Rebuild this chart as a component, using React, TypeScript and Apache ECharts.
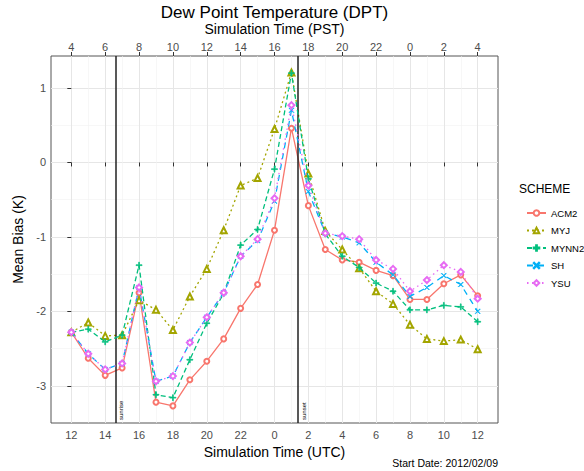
import React, { useEffect, useRef } from "react";
import * as echarts from "echarts";

// hours since 12 UTC (0..24)
const hourIndex = [0, 1, 2, 3, 4, 5, 6, 7, 8, 9, 10, 11, 12, 13, 14, 15, 16, 17, 18, 19, 20, 21, 22, 23, 24];
const majorTicks = [0, 2, 4, 6, 8, 10, 12, 14, 16, 18, 20, 22, 24];
const minorTicks = [1, 3, 5, 7, 9, 11, 13, 15, 17, 19, 21, 23];
const utcTickLabels = ["12", "14", "16", "18", "20", "22", "0", "2", "4", "6", "8", "10", "12"];
const pstTickLabels = ["4", "6", "8", "10", "12", "14", "16", "18", "20", "22", "0", "2", "4"];
const yTicks = [-3, -2, -1, 0, 1];
const yMinorTicks = [-2.5, -1.5, -0.5, 0.5];

const acm2 = [-2.28, -2.63, -2.86, -2.76, -1.75, -3.22, -3.27, -2.92, -2.67, -2.37, -1.96, -1.64, -0.91, 0.46, -0.58, -1.17, -1.31, -1.34, -1.45, -1.52, -1.84, -1.84, -1.63, -1.51, -1.79];
const myj = [-2.28, -2.15, -2.33, -2.32, -1.85, -1.98, -2.25, -1.80, -1.43, -0.91, -0.31, -0.21, 0.45, 1.21, -0.15, -0.92, -1.17, -1.42, -1.73, -1.90, -2.18, -2.37, -2.40, -2.38, -2.51];
const mynn2 = [-2.28, -2.24, -2.41, -2.32, -1.38, -3.12, -3.16, -2.65, -2.16, -1.76, -1.11, -0.90, -0.09, 1.20, -0.22, -0.96, -1.26, -1.41, -1.62, -1.73, -1.98, -1.98, -1.92, -1.94, -2.14];
const sh = [-2.28, -2.57, -2.78, -2.70, -1.68, -2.94, -2.87, -2.42, -2.08, -1.75, -1.26, -1.05, -0.52, 0.70, -0.39, -0.95, -1.00, -1.08, -1.34, -1.51, -1.80, -1.68, -1.52, -1.64, -2.00];
const ysu = [-2.28, -2.57, -2.78, -2.70, -1.68, -2.94, -2.87, -2.42, -2.08, -1.75, -1.26, -1.03, -0.48, 0.77, -0.31, -0.95, -0.99, -1.03, -1.31, -1.43, -1.73, -1.58, -1.38, -1.47, -1.83];

const schemes = ["ACM2", "MYJ", "MYNN2", "SH", "YSU"];
const sunEvents = [
  { name: "sunrise", hour: 2.6 },
  { name: "sunset", hour: 13.4 },
];

const FONT = "'Liberation Sans', Arial, sans-serif";
const PLUS = "path://M4.3,0H5.7V4.3H10V5.7H5.7V10H4.3V5.7H0V4.3H4.3Z";
const CROSS = "path://M0,0.7L0.7,0L5,4.3L9.3,0L10,0.7L5.7,5L10,9.3L9.3,10L5,5.7L0.7,10L0,9.3L4.3,5Z";

export default function App() {
  const ref = useRef<HTMLDivElement>(null);
  useEffect(() => {
    if (!ref.current) return;
    const chart = echarts.init(ref.current, undefined, { renderer: "svg" });
    const values = [acm2, myj, mynn2, sh, ysu];
    const colors = ["#F8766D", "#A3A500", "#00BF7D", "#00B0F6", "#E76BF3"];
    const dashes: any[] = ["solid", [2, 3], [5, 3], [6, 5], [1.5, 3.5]];
    const symbols = ["emptyCircle", "emptyTriangle", PLUS, CROSS, "emptyDiamond"];
    const sizes = [5, 6, 6, 5, 6];
    const xMin = -1.2, xMax = 25.2, yMin = -3.5, yMax = 1.43;

    const series: any[] = schemes.map((name, i) => ({
      name,
      type: "line",
      xAxisIndex: 0,
      yAxisIndex: 0,
      data: hourIndex.map((h, j) => [h, values[i][j]]),
      symbol: symbols[i],
      symbolSize: sizes[i],
      showAllSymbol: true,
      color: colors[i],
      lineStyle: { color: colors[i], width: 1.3, type: dashes[i] },
      itemStyle: { color: colors[i], borderColor: colors[i], borderWidth: 0.7 },
      z: 3 + i,
    }));
    series[0].markLine = {
      silent: true,
      symbol: ["none", "none"],
      lineStyle: { color: "#222", type: "solid", width: 1.5 },
      label: {
        show: true,
        formatter: (p: any) => p.name,
        position: "insideStartBottom",
        fontSize: 6,
        color: "#000",
        fontFamily: FONT,
        distance: 3,
      },
      data: sunEvents.map((s) => ({ xAxis: s.hour, name: s.name })),
    };

    const axisText = { color: "#4D4D4D", fontSize: 11, fontFamily: FONT };
    const nameText = { color: "#000", fontSize: 14, fontFamily: FONT };

    chart.setOption({
      animation: false,
      backgroundColor: "#fff",
      grid: { left: 51, right: 86, top: 56, bottom: 48, show: true, borderColor: "#555", borderWidth: 1, backgroundColor: "#fff" },
      xAxis: [
        {
          type: "value", position: "bottom", min: xMin, max: xMax,
          axisLine: { show: false },
          axisTick: { show: true, customValues: majorTicks, length: 4, lineStyle: { color: "#333" } },
          axisLabel: { customValues: majorTicks, margin: 6, ...axisText, formatter: (v: number) => utcTickLabels[majorTicks.indexOf(v)] ?? "" },
          splitLine: { show: true, lineStyle: { color: "#E6E6E6", width: 1 } },
          name: "Simulation Time (UTC)", nameLocation: "middle", nameGap: 22, nameTextStyle: nameText,
        },
        {
          type: "value", position: "bottom", min: xMin, max: xMax,
          axisLine: { show: false },
          axisTick: { show: false, customValues: minorTicks },
          axisLabel: { show: false, customValues: minorTicks },
          splitLine: { show: true, lineStyle: { color: "#F2F2F2", width: 0.6 } },
        },
        {
          type: "value", position: "top", min: xMin, max: xMax,
          axisLine: { show: false },
          axisTick: { show: true, customValues: majorTicks, length: 4, lineStyle: { color: "#333" } },
          axisLabel: { customValues: majorTicks, margin: 4, ...axisText, formatter: (v: number) => pstTickLabels[majorTicks.indexOf(v)] ?? "" },
          splitLine: { show: false },
          name: "Simulation Time (PST)", nameLocation: "middle", nameGap: 16, nameTextStyle: nameText,
        },
      ],
      yAxis: [
        {
          type: "value", min: yMin, max: yMax,
          axisLine: { show: false },
          axisTick: { show: true, customValues: yTicks, length: 4, lineStyle: { color: "#333" } },
          axisLabel: { customValues: yTicks, margin: 5, ...axisText, formatter: (v: number) => String(v) },
          splitLine: { show: true, lineStyle: { color: "#E6E6E6", width: 1 } },
          name: "Mean Bias (K)", nameLocation: "middle", nameGap: 26, nameTextStyle: nameText,
        },
        {
          type: "value", min: yMin, max: yMax,
          axisLine: { show: false },
          axisTick: { show: false, customValues: yMinorTicks },
          axisLabel: { show: false, customValues: yMinorTicks },
          splitLine: { show: true, lineStyle: { color: "#F2F2F2", width: 0.6 } },
        },
      ],
      legend: {
        orient: "vertical",
        left: 521,
        top: 203,
        itemWidth: 19,
        itemHeight: 7,
        itemGap: 7.5,
        data: schemes,
        textStyle: { fontSize: 9.5, color: "#000", fontFamily: FONT },
      },
      graphic: [
        { type: "text", x: 274.5, y: 12, style: { text: "Dew Point Temperature (DPT)", textAlign: "center", textVerticalAlign: "middle", fontSize: 17, fontFamily: FONT, fill: "#000" } },
        { type: "text", x: 519, y: 189, style: { text: "SCHEME", textAlign: "left", textVerticalAlign: "middle", fontSize: 12, fontFamily: FONT, fill: "#000" } },
        { type: "text", x: 498, y: 463, style: { text: "Start Date: 2012/02/09", textAlign: "right", textVerticalAlign: "middle", fontSize: 10.5, fontFamily: FONT, fill: "#000" } },
      ],
      series,
    });
    return () => chart.dispose();
  }, []);
  return <div ref={ref} style={{ width: 584, height: 471, position: "absolute", left: 0, top: 0 }} />;
}
